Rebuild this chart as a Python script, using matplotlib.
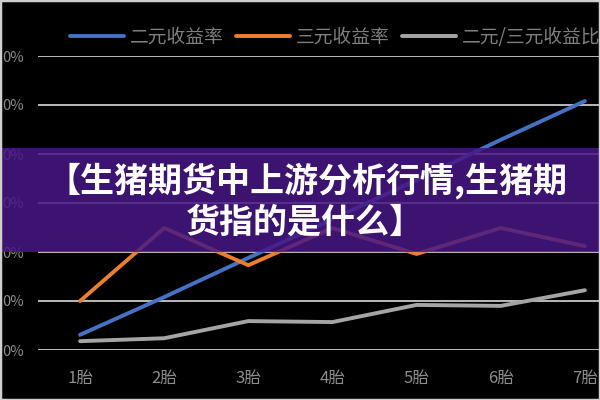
import matplotlib
matplotlib.use("Agg")
import matplotlib.pyplot as plt
from matplotlib.patches import Rectangle

plt.rcParams['font.family'] = ['Noto Sans CJK SC', 'DejaVu Sans']

# data
births = ["1胎", "2胎", "3胎", "4胎", "5胎", "6胎", "7胎"]
y_ticks = [0, 1, 2, 3, 4, 5, 6]
y_labels = ["0%", "0%", "0%", "0%", "0%", "0%", "0%"]
two_yuan = [0.31, 1.08, 1.88, 2.67, 3.47, 4.29, 5.08]
three_yuan = [1.0, 2.49, 1.73, 2.49, 1.96, 2.49, 2.12]
ratio = [0.18, 0.24, 0.59, 0.57, 0.92, 0.90, 1.22]
series_names = ["二元收益率", "三元收益率", "二元/三元收益比"]
title_lines = ["【生猪期货中上游分析行情,生猪期", "货指的是什么】"]

fig = plt.figure(figsize=(6, 4), dpi=100, facecolor="black")
ax = fig.add_axes([38/600, 50/400, 1 - 38/600, 294/400])
ax.set_facecolor("black")

x = list(range(1, len(births) + 1))
ax.plot(x, two_yuan, color="#4472C4", lw=2.8, label=series_names[0], solid_capstyle="round", zorder=3)
ax.plot(x, three_yuan, color="#ED7D31", lw=2.8, label=series_names[1], solid_capstyle="round", zorder=3)
ax.plot(x, ratio, color="#A5A5A5", lw=2.8, label=series_names[2], solid_capstyle="round", zorder=3)

ax.set_xlim(0.5, 7.18)
ax.set_ylim(0, 6)
ax.set_xticks(x)
ax.set_xticklabels(births)
ax.set_yticks(y_ticks)
ax.set_yticklabels(y_labels)
ax.grid(axis="y", color="#d9d9d9", lw=1.2)
ax.set_axisbelow(True)
for s in ax.spines.values():
    s.set_visible(False)
ax.tick_params(axis="both", length=0, colors="#8c8c8c", labelsize=12)
ax.tick_params(axis="x", pad=14)
ax.tick_params(axis="y", pad=10, labelsize=10.5)

leg = ax.legend(loc="center left", bbox_to_anchor=(32/562, 1 + 19/294), ncol=3,
                frameon=False, labelcolor="#7f7f7f", borderaxespad=0, borderpad=0,
                prop={"size": 13.5, "weight": "light"},
                handlelength=2.9, columnspacing=0.65, handletextpad=0.3)

# purple banner with title
fig.add_artist(Rectangle((0, 1 - 252/400), 1, 104/400, transform=fig.transFigure,
                         facecolor=(0.28, 0.09, 0.52), alpha=0.85, edgecolor="none", zorder=5))
fig.text(0.512, 1 - 181/400, title_lines[0], color="white", fontsize=24.5, fontweight="heavy",
         ha="center", va="center", zorder=6)
fig.text(0.508, 1 - 222/400, title_lines[1], color="white", fontsize=24.5, fontweight="heavy",
         ha="center", va="center", zorder=6)

# thin light frame
fig.add_artist(Rectangle((0, 0), 1, 1, transform=fig.transFigure, facecolor="none",
                         edgecolor="#cfcfcf", lw=2.5, zorder=7))

fig.savefig("out.png", dpi=100, facecolor="black")
